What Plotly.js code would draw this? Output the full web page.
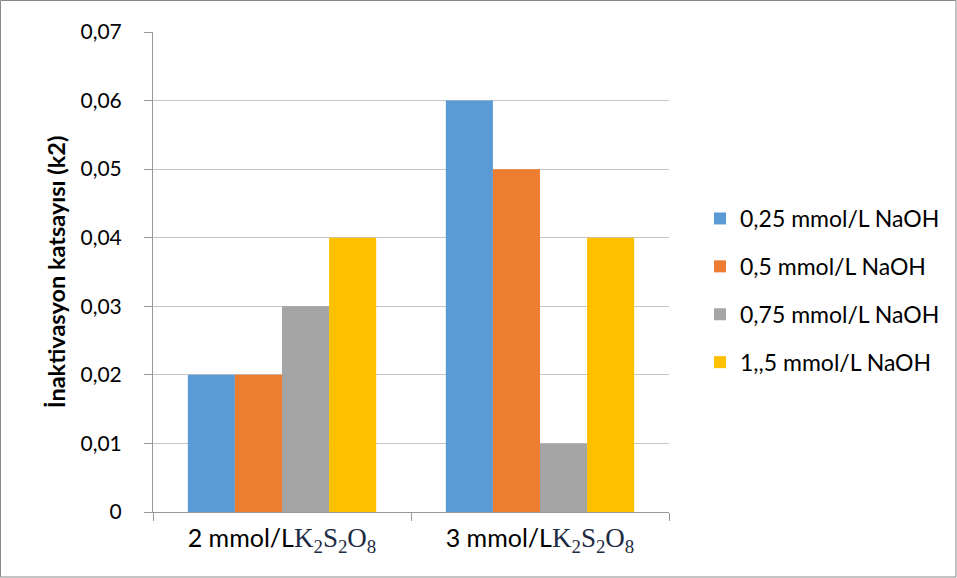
<!DOCTYPE html>
<html>
<head>
<meta charset="utf-8">
<script src="https://cdn.plot.ly/plotly-3.0.1.min.js"></script>
<style>
html,body{margin:0;padding:0;background:#fff;}
#chart{width:957px;height:578px;}
</style>
</head>
<body>
<div id="chart"></div>
<script>
var chem = '<span style="font-family:\'Liberation Serif\',\'DejaVu Serif\',serif;font-size:27px;color:#1c2a44;">K<sub>2</sub>S<sub>2</sub>O<sub>8</sub></span>';
var categories = ['2 mmol/L' + chem, '3 mmol/L' + chem];
var seriesNames = ['0,25 mmol/L NaOH', '0,5 mmol/L NaOH', '0,75 mmol/L NaOH', '1,,5 mmol/L NaOH'];
var s1 = [0.02, 0.06];
var s2 = [0.02, 0.05];
var s3 = [0.03, 0.01];
var s4 = [0.04, 0.04];
var yTicks = [0, 0.01, 0.02, 0.03, 0.04, 0.05, 0.06, 0.07];
var colors = ['#5B9BD5', '#ED7D31', '#A5A5A5', '#FFC000'];

var values = [s1, s2, s3, s4];
var traces = values.map(function(v, i){
  return {
    type: 'bar', x: categories, y: v, name: seriesNames[i],
    legendgroup: 'g' + i,
    marker: {color: colors[i], line: {width: 0}},
    hoverinfo: 'y'
  };
});

var L = 153, R = 669, T = 32, B = 512, W = 957, H = 578;
var pw = R - L, ph = B - T;

var layout = {
  width: W, height: H,
  margin: {l: L, r: W - R, t: T, b: H - B, pad: 0},
  paper_bgcolor: '#fff', plot_bgcolor: '#fff',
  separators: ',.',
  font: {family: 'Lato, "Open Sans", sans-serif', size: 22, color: '#000'},
  barmode: 'group', bargap: 0.27, bargroupgap: 0,
  showlegend: true,
  legend: {
    x: (700 - L) / pw, y: (B - 197) / ph, xanchor: 'left', yanchor: 'top',
    font: {size: 23, color: '#000'}, tracegroupgap: 15, itemwidth: 30,
    bgcolor: 'rgba(0,0,0,0)', traceorder: 'grouped'
  },
  xaxis: {
    type: 'category', showgrid: false, showline: true, linecolor: '#999999', linewidth: 1,
    ticks: 'outside', tickson: 'boundaries', ticklen: 8, tickcolor: '#999999',
    tickfont: {size: 25, color: '#000'}, zeroline: false, ticklabelstandoff: 4
  },
  yaxis: {
    range: [0, 0.07], tickvals: yTicks, ticktext: yTicks.map(function(v){ return v === 0 ? '0' : v.toFixed(2).replace('.', ','); }),
    showgrid: true, gridcolor: '#c4c4c4', gridwidth: 1,
    showline: true, linecolor: '#999999', linewidth: 1,
    ticks: 'outside', ticklen: 8, tickcolor: '#999999',
    tickfont: {size: 21, color: '#000'}, zeroline: false, ticklabelstandoff: 18,
    title: {text: '<b>İnaktivasyon katsayısı (k2)</b>', font: {size: 23.5, color: '#000'}, standoff: 8}
  },
  shapes: [{
    type: 'rect', xref: 'paper', yref: 'paper',
    x0: (0.5 - L) / pw, x1: (956 - L) / pw, y0: (B - 577) / ph, y1: (B - 0.5) / ph,
    line: {color: '#898989', width: 1}, fillcolor: 'rgba(0,0,0,0)', layer: 'below'
  }]
};

Plotly.newPlot('chart', traces, layout, {displayModeBar: false, staticPlot: true});
</script>
</body>
</html>
